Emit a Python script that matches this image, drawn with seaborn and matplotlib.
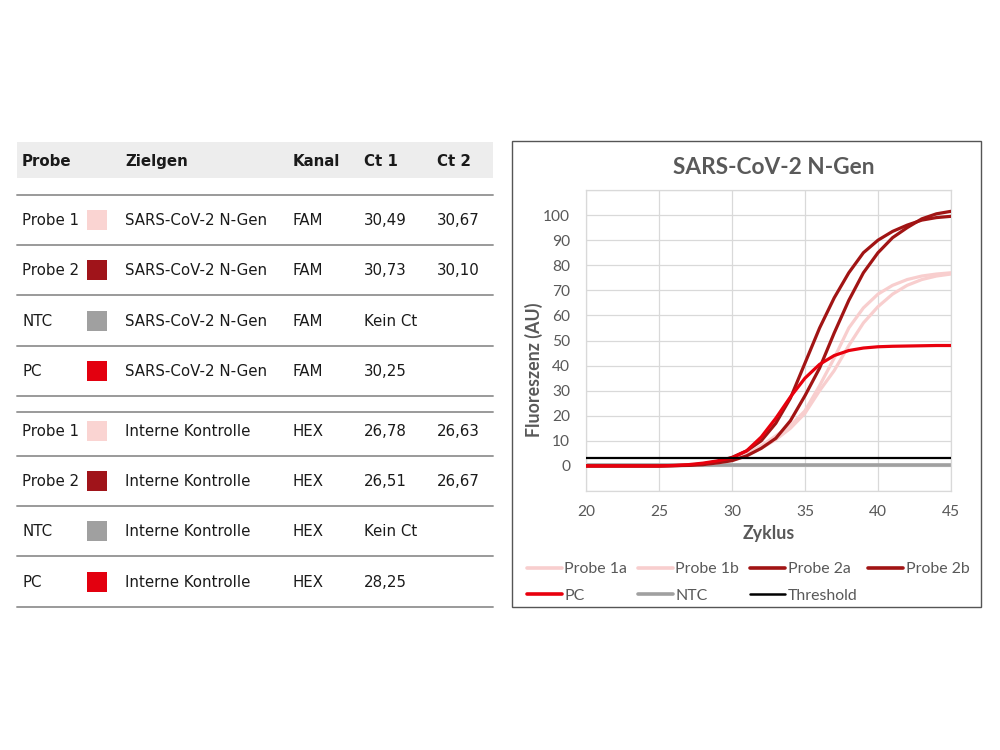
import matplotlib
matplotlib.use("Agg")
import matplotlib.pyplot as plt
import seaborn as sns
import pandas as pd
from matplotlib.lines import Line2D
from matplotlib.patches import Rectangle

# ---------------- table data ----------------
table_header = ["Probe", "Zielgen", "Kanal", "Ct 1", "Ct 2"]
row_probe = ["Probe 1", "Probe 2", "NTC", "PC", "Probe 1", "Probe 2", "NTC", "PC"]
row_gene = ["SARS-CoV-2 N-Gen", "SARS-CoV-2 N-Gen", "SARS-CoV-2 N-Gen", "SARS-CoV-2 N-Gen",
            "Interne Kontrolle", "Interne Kontrolle", "Interne Kontrolle", "Interne Kontrolle"]
row_channel = ["FAM", "FAM", "FAM", "FAM", "HEX", "HEX", "HEX", "HEX"]
row_ct1 = ["30,49", "30,73", "Kein Ct", "30,25", "26,78", "26,51", "Kein Ct", "28,25"]
row_ct2 = ["30,67", "30,10", "", "", "26,63", "26,67", "", ""]

# ---------------- chart data ----------------
cycles = [20, 21, 22, 23, 24, 25, 26, 27, 28, 29, 30, 31, 32,
          33, 34, 35, 36, 37, 38, 39, 40, 41, 42, 43, 44, 45]
probe_1a = [0, 0, 0, 0, 0, 0, 0.1, 0.3, 0.7, 1.4, 2.4, 4.6, 8.0,
            12.0, 16.0, 22.0, 32.0, 43.0, 55.0, 63.0, 68.5, 72.0, 74.3, 75.7, 76.5, 77.0]
probe_1b = [0, 0, 0, 0, 0, 0, 0.1, 0.3, 0.6, 1.3, 2.2, 4.2, 7.0,
            10.5, 15.0, 21.0, 30.0, 38.0, 48.0, 57.0, 63.5, 68.5, 72.0, 74.3, 75.7, 76.5]
probe_2a = [0, 0, 0, 0, 0, 0, 0.1, 0.3, 0.8, 1.8, 3.4, 6.0, 10.0,
            17.0, 27.0, 41.0, 55.0, 67.0, 77.0, 85.0, 90.0, 93.5, 96.0, 98.0, 99.0, 99.5]
probe_2b = [0, 0, 0, 0, 0, 0, 0.1, 0.2, 0.5, 1.2, 2.1, 4.0, 7.0,
            11.0, 18.0, 28.0, 39.0, 53.0, 66.0, 77.0, 85.0, 91.0, 95.0, 98.5, 100.5, 101.5]
pc = [0, 0, 0, 0, 0, 0, 0.2, 0.5, 1.1, 2.0, 3.2, 6.0, 11.5,
      19.0, 27.5, 35.0, 40.5, 44.0, 46.0, 47.0, 47.5, 47.7, 47.8, 47.9, 48.0, 48.0]
ntc = [0.3, 0.3, 0.3, 0.3, 0.3, 0.3, 0.3, 0.3, 0.3, 0.3, 0.3, 0.3, 0.3,
       0.3, 0.3, 0.3, 0.3, 0.3, 0.3, 0.3, 0.3, 0.3, 0.3, 0.3, 0.3, 0.3]
threshold = [3.3, 3.3, 3.3, 3.3, 3.3, 3.3, 3.3, 3.3, 3.3, 3.3, 3.3, 3.3, 3.3,
             3.3, 3.3, 3.3, 3.3, 3.3, 3.3, 3.3, 3.3, 3.3, 3.3, 3.3, 3.3, 3.3]

series_names = ["Probe 1a", "Probe 1b", "Probe 2a", "Probe 2b", "PC", "NTC", "Threshold"]
series_values = [probe_1a, probe_1b, probe_2a, probe_2b, pc, ntc, threshold]

# ---------------- styles ----------------
C_P1 = "#F8CECE"
C_P2 = "#A11414"
C_PC = "#E8000D"
C_NTC = "#A0A0A0"
C_THR = "#000000"
line_colors = {"Probe 1a": C_P1, "Probe 1b": C_P1, "Probe 2a": C_P2, "Probe 2b": C_P2,
               "PC": C_PC, "NTC": C_NTC, "Threshold": C_THR}
line_widths = {"Probe 1a": 2.3, "Probe 1b": 2.3, "Probe 2a": 2.3, "Probe 2b": 2.3,
               "PC": 2.3, "NTC": 2.6, "Threshold": 1.6}
line_z = {"Probe 1a": 3, "Probe 1b": 3, "Probe 2a": 4, "Probe 2b": 4,
          "PC": 5, "NTC": 2, "Threshold": 6}
swatch_colors = {"Probe 1": "#FAD4D2", "Probe 2": "#A0141A", "NTC": "#A0A0A0", "PC": "#E3000F"}

sns.set_style("white")
plt.rcParams["font.family"] = ["DejaVu Sans"]

W, H = 1000, 750
fig = plt.figure(figsize=(10, 7.5), dpi=100)
fig.patch.set_facecolor("white")


def fx(x):
    return x / W


def fy(y):
    return 1 - y / H


# ---------------- table ----------------
TABLE_FONT = ["DejaVu Sans"]
tsize = 10.8
txt_color = "#1a1a1a"
col_x = [22, 125, 293, 364, 437]
tab_left, tab_right = 17, 493
base_off = 0.36 * tsize * 100 / 72  # half cap height in px

fig.add_artist(Rectangle((fx(tab_left), fy(178)), fx(tab_right) - fx(tab_left), fy(142) - fy(178),
                         transform=fig.transFigure, facecolor="#EDEDED", edgecolor="none", zorder=0))
for cx, h in zip(col_x, table_header):
    fig.text(fx(cx), fy(160.5 + base_off), h, fontsize=tsize, fontweight="bold",
             family=TABLE_FONT, color=txt_color, va="baseline")

line_ys = [194.5, 244.5, 295, 346, 396, 411.5, 456, 506, 556, 607]
for ly in line_ys:
    fig.add_artist(Line2D([fx(tab_left), fx(tab_right)], [fy(ly), fy(ly)],
                          transform=fig.transFigure, color="#9A9A9A", lw=1.4))

row_ys = [219.5, 270, 320.5, 371, 431, 481, 531, 581.5]
for i, ry in enumerate(row_ys):
    vals = [row_probe[i], row_gene[i], row_channel[i], row_ct1[i], row_ct2[i]]
    for cx, v in zip(col_x, vals):
        fig.text(fx(cx), fy(ry + base_off), v, fontsize=tsize, family=TABLE_FONT,
                 color=txt_color, va="baseline")
    fig.add_artist(Rectangle((fx(87), fy(ry + 10)), fx(20), 20 / H, transform=fig.transFigure,
                             facecolor=swatch_colors[row_probe[i]], edgecolor="none"))

# ---------------- chart ----------------
CHART_FONT = ["Lato", "DejaVu Sans"]
gray_txt = "#595959"

fig.add_artist(Rectangle((fx(512), fy(607)), fx(981) - fx(512), fy(141) - fy(607),
                         transform=fig.transFigure, facecolor="white", edgecolor="#555555",
                         lw=1.0, zorder=0))

ax_l, ax_r, ax_t, ax_b = 586, 951, 190, 491
ax = fig.add_axes([fx(ax_l), fy(ax_b), fx(ax_r) - fx(ax_l), fy(ax_t) - fy(ax_b)])
ax.set_facecolor("white")

rows = []
for name, vals in zip(series_names, series_values):
    for c, v in zip(cycles, vals):
        rows.append({"Zyklus": c, "Wert": v, "Serie": name})
df = pd.DataFrame(rows)

for name in ["NTC", "Probe 1a", "Probe 1b", "Probe 2a", "Probe 2b", "PC", "Threshold"]:
    sub = df[df["Serie"] == name]
    sns.lineplot(data=sub, x="Zyklus", y="Wert", color=line_colors[name], lw=line_widths[name],
                 ax=ax, estimator=None, sort=False, legend=False, zorder=line_z[name])

ax.set_xlim(20, 45)
ax.set_ylim(-10, 110)
ax.set_xticks([20, 25, 30, 35, 40, 45])
yt = list(range(-10, 111, 10))
ax.set_yticks(yt)
ax.set_yticklabels(["" if (v < 0 or v > 100) else str(v) for v in yt])
ax.grid(True, color="#D9D9D9", lw=0.9)
ax.set_axisbelow(True)
for sp in ax.spines.values():
    sp.set_color("#D9D9D9")
    sp.set_linewidth(0.9)
ax.tick_params(axis="both", length=0, labelsize=11.2, labelcolor=gray_txt)
ax.tick_params(axis="y", pad=11.5)
ax.tick_params(axis="x", pad=10)
for lab in ax.get_xticklabels() + ax.get_yticklabels():
    lab.set_family(CHART_FONT)

ax.set_xlabel("Zyklus", fontsize=12.8, fontweight="bold", color=gray_txt, family=CHART_FONT)
ax.set_ylabel("Fluoreszenz (AU)", fontsize=12.8, fontweight="bold", color=gray_txt,
              family=CHART_FONT)
ax.xaxis.set_label_coords((768.5 - ax_l) / (ax_r - ax_l), (ax_b - 534) / (ax_b - ax_t))
ax.xaxis.label.set_va("center")
ax.yaxis.set_label_coords((534 - ax_l) / (ax_r - ax_l), (ax_b - 370) / (ax_b - ax_t))
ax.yaxis.label.set_va("center")

ax.set_title("SARS-CoV-2 N-Gen", fontsize=16.3, fontweight="bold", color=gray_txt,
             family=CHART_FONT, x=(774 - ax_l) / (ax_r - ax_l),
             y=1 + (ax_t - 167) / (ax_b - ax_t), va="center", pad=0)

handles = {n: Line2D([], [], color=line_colors[n], lw=2.6 if n != "Threshold" else 1.8)
           for n in series_names}
order = ["Probe 1a", "PC", "Probe 1b", "NTC", "Probe 2a", "Threshold", "Probe 2b"]
leg = ax.legend([handles[n] for n in order], order, ncol=4, loc="upper left",
                bbox_to_anchor=(fx(527), fy(562)), bbox_transform=fig.transFigure,
                frameon=False, borderpad=0, borderaxespad=0, handlelength=2.2,
                handletextpad=0.15, columnspacing=0.7, labelspacing=0.8,
                prop={"family": CHART_FONT, "size": 11.4})
for t in leg.get_texts():
    t.set_color(gray_txt)

fig.savefig("out.png", dpi=100, facecolor="white")
